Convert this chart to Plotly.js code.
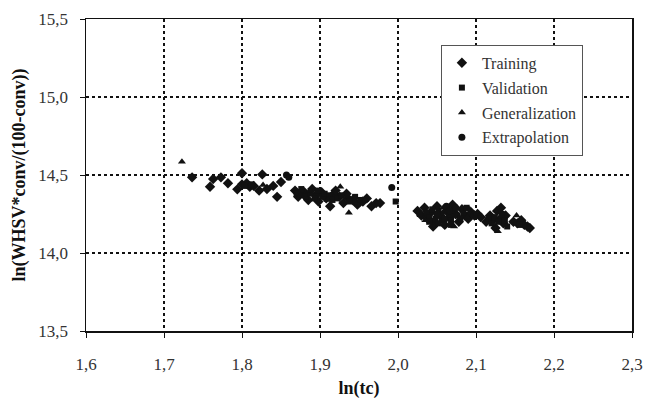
<!DOCTYPE html>
<html>
<head>
<meta charset="utf-8">
<script src="https://cdn.plot.ly/plotly-3.0.1.min.js"></script>
<style>html,body{margin:0;padding:0;background:#fff;}#chart{width:645px;height:399px;}</style>
</head>
<body>
<div id="chart"></div>
<script>
// ---- data ----
const seriesNames = ["Training", "Validation", "Generalization", "Extrapolation"];

const trainingX = [1.736, 1.759, 1.763, 1.773, 1.782, 1.800, 1.794, 1.806, 1.810, 1.826, 1.832, 1.840, 1.845, 1.850, 1.800, 1.815, 1.822,
  1.868, 1.872, 1.878, 1.885, 1.890, 1.895, 1.902, 1.908, 1.913, 1.918, 1.925, 1.930, 1.936, 1.942, 1.948, 1.955, 1.960, 1.966, 1.972, 1.977, 1.880, 1.898, 1.920, 1.934,
  2.025, 2.030, 2.034, 2.038, 2.042, 2.046, 2.050, 2.054, 2.058, 2.062, 2.066, 2.070, 2.074, 2.078, 2.082, 2.086, 2.090, 2.094, 2.098, 2.102, 2.106, 2.045, 2.060,
  2.113, 2.118, 2.122, 2.127, 2.131, 2.135, 2.138, 2.125, 2.132,
  2.148, 2.153, 2.158, 2.162, 2.166, 2.169];
const trainingY = [14.485, 14.425, 14.474, 14.485, 14.447, 14.511, 14.408, 14.447, 14.425, 14.504, 14.410, 14.430, 14.360, 14.455, 14.440, 14.430, 14.400,
  14.400, 14.360, 14.380, 14.340, 14.410, 14.370, 14.390, 14.350, 14.300, 14.380, 14.360, 14.320, 14.350, 14.340, 14.310, 14.330, 14.350, 14.300, 14.320, 14.320, 14.390, 14.330, 14.400, 14.380,
  14.270, 14.240, 14.290, 14.220, 14.260, 14.200, 14.300, 14.240, 14.210, 14.270, 14.230, 14.310, 14.250, 14.200, 14.280, 14.240, 14.220, 14.260, 14.240, 14.250, 14.230, 14.170, 14.180,
  14.200, 14.240, 14.210, 14.270, 14.220, 14.190, 14.240, 14.160, 14.290,
  14.200, 14.190, 14.210, 14.180, 14.170, 14.160];

const validationX = [1.803, 1.812,
  1.870, 1.876, 1.882, 1.888, 1.893, 1.897, 1.903, 1.906, 1.912, 1.916, 1.922, 1.928, 1.938, 1.945, 1.952, 1.997,
  2.028, 2.036, 2.040, 2.044, 2.048, 2.052, 2.056, 2.060, 2.064, 2.068, 2.072, 2.076, 2.080, 2.084, 2.088, 2.052, 2.068, 2.040,
  2.116, 2.120, 2.124, 2.129, 2.133, 2.137, 2.140, 2.156];
const validationY = [14.430, 14.440,
  14.380, 14.410, 14.360, 14.380, 14.350, 14.400, 14.360, 14.380, 14.370, 14.340, 14.350, 14.370, 14.330, 14.360, 14.340, 14.330,
  14.250, 14.260, 14.230, 14.280, 14.220, 14.270, 14.250, 14.220, 14.290, 14.210, 14.270, 14.240, 14.220, 14.260, 14.290, 14.190, 14.180, 14.200,
  14.220, 14.190, 14.230, 14.200, 14.250, 14.210, 14.170, 14.180];

const generalizationX = [1.723, 1.827, 1.875, 1.887, 1.926, 1.937, 1.910, 1.958, 2.035, 2.058, 2.072, 2.092, 2.128, 2.152];
const generalizationY = [14.585, 14.436, 14.370, 14.400, 14.425, 14.258, 14.340, 14.340, 14.210, 14.290, 14.170, 14.280, 14.140, 14.240];

const extrapolationX = [1.857, 1.860, 1.992, 2.062, 2.074, 2.066, 2.050];
const extrapolationY = [14.500, 14.485, 14.420, 14.300, 14.290, 14.270, 14.250];

const xTicks = [1.6, 1.7, 1.8, 1.9, 2.0, 2.1, 2.2, 2.3];
const yTicks = [13.5, 14.0, 14.5, 15.0, 15.5];
const xTitle = "ln(tc)";
const yTitle = "ln(WHSV*conv/(100-conv))";

// ---- chart ----
const ink = "#111111";
const FONT = "Liberation Serif";
function mk(name, xs, ys, symbol, size) {
  return {type: "scatter", mode: "markers", name: name, legendgroup: name, x: xs, y: ys,
    marker: {symbol: symbol, size: size, color: ink, line: {width: 0}}};
}
const traces = [
  mk(seriesNames[0], trainingX, trainingY, "diamond", 8),
  mk(seriesNames[1], validationX, validationY, "square", 6),
  mk(seriesNames[2], generalizationX, generalizationY, "triangle-up", 7),
  mk(seriesNames[3], extrapolationX, extrapolationY, "circle", 7)
];

const axisCommon = {
  showline: true, mirror: true, linecolor: ink, linewidth: 1.5,
  showgrid: true, gridcolor: ink, griddash: "dot", gridwidth: 1.2,
  zeroline: false, ticks: "outside", ticklen: 5, tickcolor: ink, tickwidth: 1,
  tickfont: {family: FONT, size: 17, color: "#333"}
};

const layout = {
  width: 645, height: 399,
  margin: {l: 86, r: 13, t: 19, b: 68},
  paper_bgcolor: "#fff", plot_bgcolor: "#fff",
  separators: ", ",
  showlegend: true,
  font: {family: FONT, size: 17, color: "#333"},
  xaxis: Object.assign({}, axisCommon, {
    range: [1.6, 2.3], tickvals: xTicks, tickformat: ".1f",
    ticklabelstandoff: 12,
    title: {text: "<b>" + xTitle + "</b>", font: {family: FONT, size: 18, color: ink}, standoff: 10}
  }),
  yaxis: Object.assign({}, axisCommon, {
    range: [13.5, 15.5], tickvals: yTicks, tickformat: ".1f",
    ticklabelstandoff: 8,
    title: {text: "<b>" + yTitle + "</b>", font: {family: FONT, size: 18, color: ink}, standoff: 8}
  }),
  legend: {
    x: 0.650, y: 0.917, xanchor: "left", yanchor: "top",
    bgcolor: "#fff", bordercolor: "#555", borderwidth: 1,
    font: {family: FONT, size: 16, color: "#333"},
    itemwidth: 30, traceorder: "grouped", tracegroupgap: 1
  }
};

Plotly.newPlot("chart", traces, layout, {displayModeBar: false, staticPlot: true});
</script>
</body>
</html>
